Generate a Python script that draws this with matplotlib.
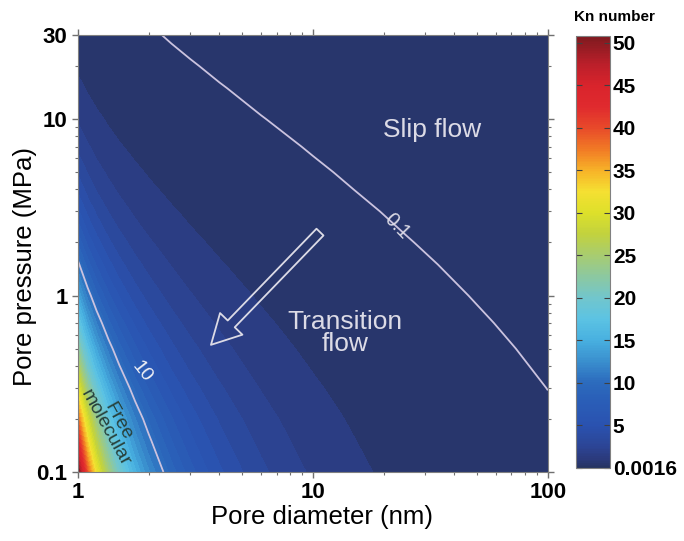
import numpy as np
import matplotlib
matplotlib.use("Agg")
import matplotlib.pyplot as plt
from matplotlib.colors import LinearSegmentedColormap, Normalize
from matplotlib.cm import ScalarMappable

plt.rcParams['font.family'] = ['Liberation Sans', 'DejaVu Sans']

# pore diameter (nm) and pore pressure (MPa) grid
diameter = [1, 1.1, 1.2, 1.35, 1.5, 1.75, 2, 2.5, 3, 4, 6, 10, 15, 25, 50, 100]
pressure = [0.1, 0.15, 0.2, 0.3, 0.5, 0.7, 1, 1.5, 2, 3, 5, 7, 10, 15, 20, 30]

# Kn number, one row per pressure
kn = [
    [50.8, 38.7, 31.2, 24.3, 19.8, 15.2, 12.3, 8.93, 7.00, 4.89, 3.06, 1.74, 1.13, 0.668, 0.330, 0.164],
    [42.8, 32.6, 26.3, 20.5, 16.7, 12.8, 10.4, 7.53, 5.90, 4.13, 2.58, 1.47, 0.957, 0.563, 0.278, 0.138],
    [37.8, 28.8, 23.3, 18.1, 14.8, 11.3, 9.17, 6.65, 5.22, 3.64, 2.27, 1.30, 0.845, 0.498, 0.245, 0.122],
    [30.5, 23.2, 18.8, 14.6, 11.9, 9.12, 7.39, 5.36, 4.21, 2.94, 1.83, 1.05, 0.682, 0.401, 0.198, 0.0983],
    [22.6, 17.2, 13.9, 10.8, 8.82, 6.76, 5.48, 3.97, 3.12, 2.18, 1.36, 0.776, 0.505, 0.297, 0.147, 0.0728],
    [18.2, 13.8, 11.2, 8.67, 7.09, 5.43, 4.40, 3.19, 2.50, 1.75, 1.09, 0.623, 0.406, 0.239, 0.118, 0.0585],
    [14.1, 10.8, 8.69, 6.75, 5.51, 4.22, 3.42, 2.48, 1.95, 1.36, 0.850, 0.485, 0.316, 0.186, 0.0917, 0.0455],
    [10.4, 7.93, 6.40, 4.97, 4.06, 3.11, 2.52, 1.83, 1.44, 1.00, 0.626, 0.357, 0.233, 0.137, 0.0675, 0.0335],
    [8.22, 6.26, 5.06, 3.93, 3.21, 2.46, 1.99, 1.45, 1.13, 0.792, 0.494, 0.282, 0.184, 0.108, 0.0533, 0.0265],
    [5.80, 4.42, 3.57, 2.77, 2.26, 1.73, 1.41, 1.02, 0.800, 0.559, 0.349, 0.199, 0.130, 0.0763, 0.0376, 0.0187],
    [3.60, 2.74, 2.21, 1.72, 1.40, 1.08, 0.872, 0.632, 0.496, 0.347, 0.216, 0.124, 0.0804, 0.0473, 0.0233, 0.0116],
    [2.57, 1.96, 1.58, 1.23, 1.00, 0.769, 0.624, 0.452, 0.355, 0.248, 0.155, 0.0883, 0.0575, 0.0338, 0.0167, 0.00829],
    [1.77, 1.35, 1.09, 0.845, 0.691, 0.529, 0.429, 0.311, 0.244, 0.170, 0.106, 0.0607, 0.0395, 0.0233, 0.0115, 0.00570],
    [1.13, 0.861, 0.695, 0.540, 0.441, 0.338, 0.274, 0.199, 0.156, 0.109, 0.0680, 0.0388, 0.0253, 0.0149, 0.00733, 0.00364],
    [0.810, 0.617, 0.498, 0.387, 0.316, 0.242, 0.196, 0.142, 0.112, 0.0780, 0.0487, 0.0278, 0.0181, 0.0107, 0.00525, 0.00261],
    [0.497, 0.379, 0.306, 0.237, 0.194, 0.149, 0.120, 0.0874, 0.0685, 0.0479, 0.0299, 0.0171, 0.0111, 0.00654, 0.00322, 0.00160],
]

line_levels = [0.1, 10]
x_ticks = [1, 10, 100]
y_ticks = [0.1, 1, 10, 30]
cbar_ticks = [0.0016, 5, 10, 15, 20, 25, 30, 35, 40, 45, 50]
cbar_labels = ['0.0016', '5', '10', '15', '20', '25', '30', '35', '40', '45', '50']

kmin, kmax = 0.0016, 50.8

# colour ramp picked off the colour bar
stops = [(0.0, '#263462'), (1.0, '#2b3a7c'), (2.5, '#2c4596'), (5, '#2a52b0'),
         (8, '#2a5fb8'), (10, '#2c6bbd'), (12.5, '#3a8fce'), (15, '#48b0e0'),
         (17.5, '#5cc3e3'), (20, '#72c6cc'), (22.5, '#8cc8a0'), (25, '#a8cc70'),
         (27.5, '#c2d23e'), (30, '#dde02a'), (32.5, '#f5e032'), (35, '#f7b228'),
         (37.5, '#f17a25'), (40, '#e84a2a'), (42.5, '#e02a2e'), (45, '#d9242c'),
         (47.5, '#bb1f2a'), (50.8, '#7e1a1f')]
cmap = LinearSegmentedColormap.from_list('kn', [(v / kmax, c) for v, c in stops])
norm = Normalize(kmin, kmax)

# work in log10 space so the contours come out smooth on the log-log map
lx = np.log10(diameter)
ly = np.log10(pressure)
lz = np.log10(np.array(kn))

levels = np.linspace(kmin, kmax, 55)
levels[0] = 0.0015
levels[-1] = 51.0
mids = 0.5 * (levels[:-1] + levels[1:])
fill_colors = [cmap(norm(m)) for m in mids]

fig = plt.figure(figsize=(6.84, 5.41), dpi=100)
ax = fig.add_axes([0.114, 0.1275, 0.687, 0.8078])

cf = ax.contourf(lx, ly, lz, levels=np.log10(levels), colors=fill_colors)
cf.set_edgecolor('face')
cf.set_linewidth(0.5)
ax.contour(lx, ly, lz, levels=np.log10(line_levels), colors='#cbc3df',
           linewidths=1.3, linestyles='solid')

ax.set_xlim(0, 2)
ax.set_ylim(-1, np.log10(30))

minor_x = [m * 10 ** e for e in (0, 1) for m in range(2, 10)]
minor_y = [m * 10 ** e for e in (-1, 0, 1) for m in range(2, 10) if m * 10 ** e < 30]
ax.set_xticks(np.log10(x_ticks))
ax.set_xticklabels([str(t) for t in x_ticks])
ax.set_xticks(np.log10(minor_x), minor=True)
ax.set_yticks(np.log10(y_ticks))
ax.set_yticklabels([str(t) for t in y_ticks])
ax.set_yticks(np.log10(minor_y), minor=True)
ax.tick_params(which='both', direction='out', top=True, right=True,
               color='#707070', labelsize=16)
ax.tick_params(which='major', length=4, width=1)
ax.tick_params(which='minor', length=2.5, width=0.8)
for lab in ax.get_xticklabels() + ax.get_yticklabels():
    lab.set_fontweight('bold')
for s in ax.spines.values():
    s.set_color('#808080')

ax.set_xlabel('Pore diameter (nm)', fontsize=18.5, labelpad=4)
ax.set_ylabel('Pore pressure (MPa)', fontsize=18.5, labelpad=6)
ax.xaxis.set_label_coords(0.52, -0.075)
ax.yaxis.set_label_coords(-0.088, 0.47)

light = '#dcdbe6'
ax.text(0.753, 0.783, 'Slip flow', transform=ax.transAxes, color=light,
        fontsize=19, ha='center', va='center')
ax.text(0.568, 0.318, 'Transition\nflow', transform=ax.transAxes, color=light,
        fontsize=19, ha='center', va='center', linespacing=0.85)
ax.text(0.072, 0.108, 'Free\nmolecular', transform=ax.transAxes,
        color='#27403a', fontsize=14, ha='center', va='center',
        rotation=-61, linespacing=0.85)
ax.text(0.1355, 0.2295, '10', transform=ax.transAxes, color='#f0f0f5',
        fontsize=14, ha='center', va='center', rotation=-52)
ax.text(0.679, 0.563, '0.1', transform=ax.transAxes, color=light,
        fontsize=14.5, ha='center', va='center', rotation=-46)

ax.annotate('', xy=(0.283, 0.291), xytext=(0.515, 0.549),
            xycoords='axes fraction', textcoords='axes fraction',
            arrowprops=dict(arrowstyle='simple,head_length=1.5,head_width=1.6,tail_width=0.5',
                            mutation_scale=14, fc='none', ec=light, lw=1.3,
                            shrinkA=0, shrinkB=0))

cax = fig.add_axes([0.842, 0.135, 0.050, 0.799])
cb = fig.colorbar(ScalarMappable(norm=norm, cmap=cmap), cax=cax, ticks=cbar_ticks)
cb.set_ticklabels(cbar_labels)
cb.outline.set_edgecolor('#808080')
cax.tick_params(direction='in', length=4, left=True, right=True,
                color='#404040', labelsize=15, pad=2)
for lab in cax.get_yticklabels():
    lab.set_fontweight('bold')
fig.text(0.898, 0.969, 'Kn number', fontsize=11, fontweight='bold',
         ha='center', va='center')

fig.savefig('out.png', dpi=100)
